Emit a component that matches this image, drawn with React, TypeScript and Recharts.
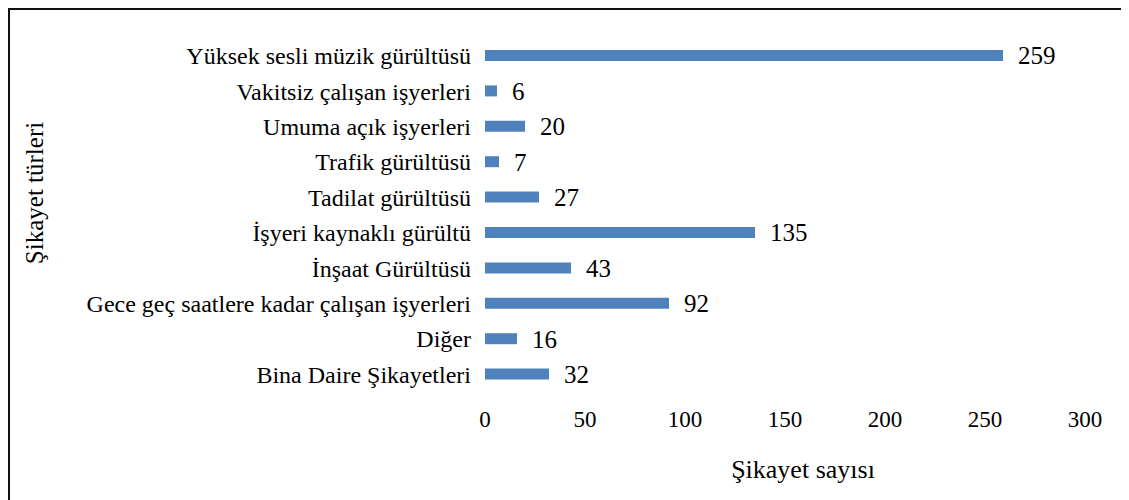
import { Bar, BarChart, LabelList, XAxis, YAxis } from "recharts";

const categories = [
  "Yüksek sesli müzik gürültüsü",
  "Vakitsiz çalışan işyerleri",
  "Umuma açık işyerleri",
  "Trafik gürültüsü",
  "Tadilat gürültüsü",
  "İşyeri kaynaklı gürültü",
  "İnşaat Gürültüsü",
  "Gece geç saatlere kadar çalışan işyerleri",
  "Diğer",
  "Bina Daire Şikayetleri",
];

const complaints = [259, 6, 20, 7, 27, 135, 43, 92, 16, 32];

const xTicks = [0, 50, 100, 150, 200, 250, 300];
const bandTicks = [0, 1, 2, 3, 4, 5, 6, 7, 8, 9, 10];

const data = categories.map((name, i) => ({ name, value: complaints[i] }));

const font = '"Liberation Serif", "Times New Roman", serif';

export default function App() {
  return (
    <div style={{ position: "relative", width: 1121, height: 492, fontFamily: font }}>
      <BarChart
        width={1121}
        height={492}
        data={data}
        layout="vertical"
        margin={{ top: 30, right: 44, left: 0, bottom: 0 }}
        style={{ fontFamily: font }}
      >
        {/* band boundary ticks, Excel style */}
        <YAxis
          yAxisId="bands"
          type="number"
          domain={[0, 10]}
          ticks={bandTicks}
          width={0}
          axisLine={{ stroke: "#d0d0d0" }}
          tickLine={{ stroke: "#d0d0d0" }}
          tickSize={6}
          tickFormatter={() => ""}
        />
        <YAxis
          yAxisId="cat"
          type="category"
          dataKey="name"
          width={477}
          axisLine={false}
          tickLine={false}
          tickSize={0}
          tickMargin={14}
          interval={0}
          tick={{ fill: "#000", fontSize: 24, fontFamily: font }}
          label={{
            content: () => (
              <text
                x={35}
                y={185}
                transform="rotate(-90 35 185)"
                textAnchor="middle"
                fontSize={25}
                fontFamily={font}
                fill="#000"
              >
                Şikayet türleri
              </text>
            ),
          }}
        />
        <XAxis
          type="number"
          domain={[0, 300]}
          ticks={xTicks}
          height={108}
          axisLine={false}
          tickLine={false}
          tickSize={0}
          tickMargin={19}
          tick={{ fill: "#000", fontSize: 23, fontFamily: font }}
          label={{
            content: () => (
              <text x={795} y={470} textAnchor="middle" fontSize={26} fontFamily={font} fill="#000">
                Şikayet sayısı
              </text>
            ),
          }}
        />
        <Bar yAxisId="cat" dataKey="value" fill="#4f81bd" barSize={11} isAnimationActive={false}>
          <LabelList dataKey="value" position="right" offset={15} fill="#000" fontSize={25} fontFamily={font} />
        </Bar>
      </BarChart>
      <div
        style={{
          position: "absolute",
          left: 0,
          top: 0,
          right: 0,
          bottom: 0,
          borderTop: "2px solid #111",
          borderLeft: "2px solid #111",
          pointerEvents: "none",
        }}
      />
    </div>
  );
}
